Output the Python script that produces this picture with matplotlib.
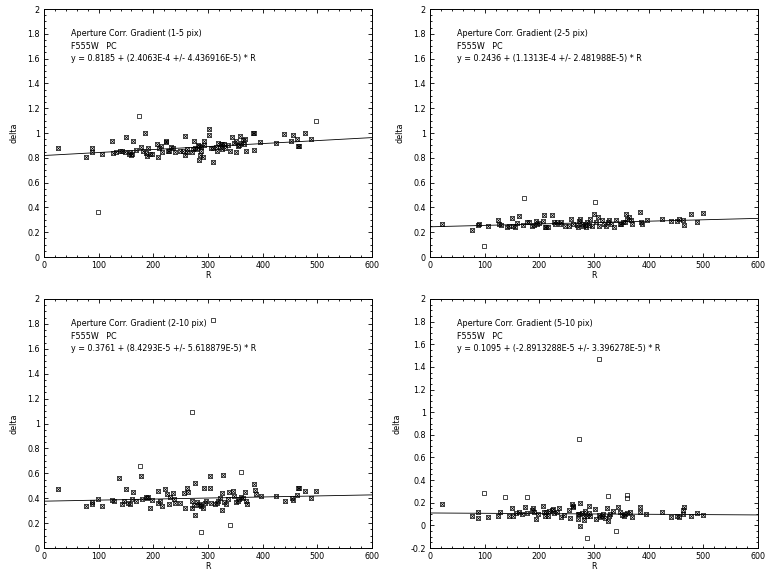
import numpy as np
import matplotlib
matplotlib.use("Agg")
import matplotlib.pyplot as plt
from matplotlib.ticker import MultipleLocator, FuncFormatter

plt.rcParams['font.family'] = ['DejaVu Sans']
plt.rcParams['axes.unicode_minus'] = False

# ---------------- Panel 1: (1-5 pix) ----------------
R1 = [26, 76, 88, 88, 106, 125, 127, 131, 139, 143, 148, 150, 155, 157, 159, 161, 162, 169, 177, 182,
      184, 186, 188, 191, 193, 197, 207, 208, 210, 214, 216, 223, 224, 226, 228, 232, 236, 240, 248, 254,
      258, 258, 262, 262, 270, 272, 275, 277, 280, 282, 283, 284, 285, 287, 288, 290, 292, 292, 301, 302,
      305, 309, 310, 314, 317, 319, 322, 323, 325, 326, 330, 331, 336, 340, 343, 347, 351, 352, 354, 357,
      359, 361, 364, 366, 368, 370, 383, 384, 385, 396, 424, 439, 451, 455, 462, 464, 466, 477, 488]
d1 = [0.88, 0.81, 0.877, 0.85, 0.83, 0.934, 0.84, 0.85, 0.853, 0.856, 0.848, 0.964, 0.834, 0.848, 0.82, 0.832, 0.934, 0.864, 0.886, 0.856,
      1.001, 0.84, 0.818, 0.877, 0.829, 0.834, 0.91, 0.81, 0.88, 0.894, 0.848, 0.931, 0.937, 0.856, 0.856, 0.888, 0.883, 0.845, 0.853, 0.856,
      0.977, 0.821, 0.875, 0.848, 0.848, 0.869, 0.937, 0.88, 0.875, 0.902, 0.896, 0.781, 0.826, 0.888, 0.851, 0.808, 0.934, 0.907, 0.982, 1.034,
      0.883, 0.764, 0.88, 0.888, 0.856, 0.918, 0.886, 0.91, 0.875, 0.91, 0.91, 0.877, 0.907, 0.856, 0.969, 0.918, 0.934, 0.848, 0.894, 0.902,
      0.974, 0.918, 0.942, 0.91, 0.953, 0.856, 0.996, 0.861, 1.001, 0.929, 0.921, 0.993, 0.934, 0.982, 0.948, 0.894, 0.899, 0.996, 0.948]
R1_rej = [98, 174, 497]
d1_rej = [0.363, 1.139, 1.095]
fit1 = (0.8185, 2.4063e-4)
txt1 = ["Aperture Corr. Gradient (1-5 pix)", "F555W   PC",
        "y = 0.8185 + (2.4063E-4 +/- 4.436916E-5) * R"]

# ---------------- Panel 2: (2-5 pix) ----------------
R2 = [22, 76, 88, 89, 106, 125, 127, 130, 140, 145, 150, 152, 156, 160, 163, 170, 178, 182, 186, 190,
      193, 196, 200, 207, 208, 210, 213, 216, 223, 226, 229, 233, 237, 240, 247, 255, 258, 262, 268, 270,
      272, 275, 278, 280, 283, 285, 287, 290, 293, 296, 300, 303, 307, 310, 314, 318, 322, 325, 328, 332,
      337, 340, 347, 350, 353, 356, 359, 361, 364, 367, 369, 384, 386, 387, 397, 424, 441, 451, 456, 462,
      464, 478, 488, 499]
d2 = [0.27, 0.22, 0.26, 0.27, 0.25, 0.30, 0.27, 0.26, 0.245, 0.25, 0.315, 0.25, 0.245, 0.275, 0.33, 0.26, 0.285, 0.28, 0.25, 0.26,
      0.29, 0.27, 0.275, 0.29, 0.335, 0.245, 0.245, 0.24, 0.34, 0.28, 0.265, 0.28, 0.27, 0.28, 0.25, 0.25, 0.305, 0.27, 0.255, 0.245,
      0.29, 0.305, 0.27, 0.25, 0.26, 0.24, 0.28, 0.255, 0.31, 0.25, 0.345, 0.28, 0.32, 0.25, 0.30, 0.265, 0.25, 0.285, 0.30, 0.27,
      0.245, 0.295, 0.27, 0.265, 0.285, 0.28, 0.345, 0.31, 0.32, 0.30, 0.27, 0.36, 0.28, 0.27, 0.30, 0.305, 0.29, 0.29, 0.305, 0.30,
      0.255, 0.345, 0.28, 0.355]
R2_rej = [98, 172, 302]
d2_rej = [0.09, 0.475, 0.445]
fit2 = (0.2436, 1.1313e-4)
txt2 = ["Aperture Corr. Gradient (2-5 pix)", "F555W   PC",
        "y = 0.2436 + (1.1313E-4 +/- 2.481988E-5) * R"]

# ---------------- Panel 3: (2-10 pix) ----------------
R3 = [26, 76, 88, 88, 99, 106, 125, 128, 138, 143, 147, 150, 153, 157, 161, 163, 169, 177, 180, 186,
      188, 191, 194, 198, 208, 209, 212, 216, 222, 225, 228, 231, 236, 238, 240, 248, 256, 258, 262, 264,
      270, 271, 274, 276, 276, 280, 283, 286, 288, 290, 293, 294, 296, 303, 304, 306, 312, 316, 319, 322,
      325, 326, 327, 330, 333, 336, 339, 345, 348, 352, 355, 357, 361, 364, 368, 370, 372, 384, 386, 387,
      397, 424, 441, 453, 456, 462, 465, 467, 477, 488, 498]
d3 = [0.47, 0.335, 0.37, 0.35, 0.39, 0.335, 0.385, 0.375, 0.56, 0.35, 0.375, 0.47, 0.365, 0.355, 0.395, 0.45, 0.375, 0.58, 0.39, 0.41,
      0.40, 0.41, 0.32, 0.385, 0.455, 0.36, 0.38, 0.34, 0.475, 0.43, 0.355, 0.41, 0.44, 0.39, 0.365, 0.365, 0.44, 0.32, 0.485, 0.45,
      0.38, 0.32, 0.345, 0.52, 0.265, 0.37, 0.345, 0.35, 0.34, 0.325, 0.48, 0.36, 0.38, 0.58, 0.485, 0.36, 0.355, 0.36, 0.38, 0.40,
      0.305, 0.44, 0.59, 0.37, 0.35, 0.39, 0.45, 0.455, 0.415, 0.37, 0.38, 0.39, 0.41, 0.40, 0.45, 0.38, 0.35, 0.515, 0.465, 0.43,
      0.42, 0.42, 0.38, 0.405, 0.385, 0.425, 0.485, 0.485, 0.455, 0.40, 0.46]
R3_rej = [175, 270, 288, 340, 360, 309]
d3_rej = [0.655, 1.095, 0.13, 0.185, 0.61, 1.83]
fit3 = (0.3761, 8.4293e-5)
txt3 = ["Aperture Corr. Gradient (2-10 pix)", "F555W   PC",
        "y = 0.3761 + (8.4293E-5 +/- 5.618879E-5) * R"]

# ---------------- Panel 4: (5-10 pix) ----------------
R4 = [22, 76, 87, 87, 106, 125, 128, 144, 150, 152, 157, 162, 168, 173, 178, 186, 188, 190, 193, 198,
      206, 208, 210, 213, 216, 218, 223, 225, 227, 232, 236, 239, 245, 254, 257, 259, 261, 262, 270, 271,
      272, 274, 275, 278, 281, 282, 284, 287, 290, 291, 293, 301, 303, 309, 311, 314, 317, 321, 323, 325,
      327, 329, 335, 344, 347, 351, 354, 357, 360, 366, 370, 384, 385, 396, 424, 441, 451, 455, 462, 463,
      465, 477, 489, 499]
d4 = [0.19, 0.085, 0.115, 0.065, 0.07, 0.085, 0.115, 0.085, 0.15, 0.08, 0.11, 0.12, 0.10, 0.16, 0.11, 0.14, 0.15, 0.12, 0.055, 0.10,
      0.17, 0.115, 0.085, 0.12, 0.08, 0.13, 0.135, 0.145, 0.11, 0.12, 0.15, 0.07, 0.09, 0.135, 0.065, 0.19, 0.17, 0.16, 0.10, 0.055,
      0.10, 0.20, -0.01, 0.105, 0.08, 0.045, 0.125, 0.08, 0.175, 0.11, 0.085, 0.145, 0.055, 0.09, 0.075, 0.085, 0.10, 0.065, 0.15, 0.035,
      0.08, 0.10, 0.125, 0.16, 0.12, 0.095, 0.08, 0.10, 0.105, 0.115, 0.07, 0.16, 0.115, 0.10, 0.115, 0.07, 0.08, 0.07, 0.10, 0.135,
      0.165, 0.085, 0.11, 0.095]
R4_rej = [99, 138, 177, 273, 309, 325, 360, 361, 287, 340]
d4_rej = [0.29, 0.25, 0.255, 0.765, 1.47, 0.26, 0.27, 0.24, -0.11, -0.05]
fit4 = (0.1095, -2.8913288e-5)
txt4 = ["Aperture Corr. Gradient (5-10 pix)", "F555W   PC",
        "y = 0.1095 + (-2.8913288E-5 +/- 3.396278E-5) * R"]

panels = [
    (R1, d1, R1_rej, d1_rej, fit1, txt1, (0.0, 2.0)),
    (R2, d2, R2_rej, d2_rej, fit2, txt2, (0.0, 2.0)),
    (R3, d3, R3_rej, d3_rej, fit3, txt3, (0.0, 2.0)),
    (R4, d4, R4_rej, d4_rej, fit4, txt4, (-0.2, 2.0)),
]

W, H = 781, 572
fig = plt.figure(figsize=(W / 100, H / 100), dpi=100)
# axes boxes in pixels: left, top, right, bottom
boxes = [(44, 9, 372, 257), (430, 9, 758, 257), (44, 299, 372, 548), (430, 299, 758, 548)]

fs = 5.8
for (R, d, Rr, dr, fit, txt, ylim), (l, t, r, b) in zip(panels, boxes):
    ax = fig.add_axes([l / W, 1 - b / H, (r - l) / W, (b - t) / H])
    ax.set_xlim(0, 600)
    ax.set_ylim(*ylim)
    for s in ax.spines.values():
        s.set_linewidth(0.7)
    ax.xaxis.set_major_locator(MultipleLocator(100))
    ax.xaxis.set_minor_locator(MultipleLocator(20))
    ax.yaxis.set_major_locator(MultipleLocator(0.2))
    ax.yaxis.set_minor_locator(MultipleLocator(0.05))
    ax.yaxis.set_major_formatter(FuncFormatter(lambda v, p: f"{round(v, 2):g}"))
    ax.tick_params(which='both', direction='in', top=True, right=True,
                   labelsize=fs, width=0.6, pad=3)
    ax.tick_params(which='major', length=3.2)
    ax.tick_params(which='minor', length=1.6)
    ax.set_xlabel("R", fontsize=fs, labelpad=0.5)
    ax.set_ylabel("delta", fontsize=fs, labelpad=6)

    xs = np.array([0.0, 600.0])
    ax.plot(xs, fit[0] + fit[1] * xs, color='k', lw=0.6, zorder=2)

    ax.plot(R, d, ls='none', marker='s', ms=2.8, mfc='none', mec='k', mew=0.5, zorder=3)
    ax.plot(R, d, ls='none', marker='x', ms=2.8, mec='k', mew=0.5, zorder=3)
    ax.plot(Rr, dr, ls='none', marker='s', ms=3.0, mfc='none', mec='k', mew=0.5, zorder=3)

    for i, line in enumerate(txt):
        ax.text(0.082, 0.90 - 0.05 * i, line, transform=ax.transAxes,
                fontsize=fs, va='center', ha='left')

fig.savefig("out.png", dpi=100)
